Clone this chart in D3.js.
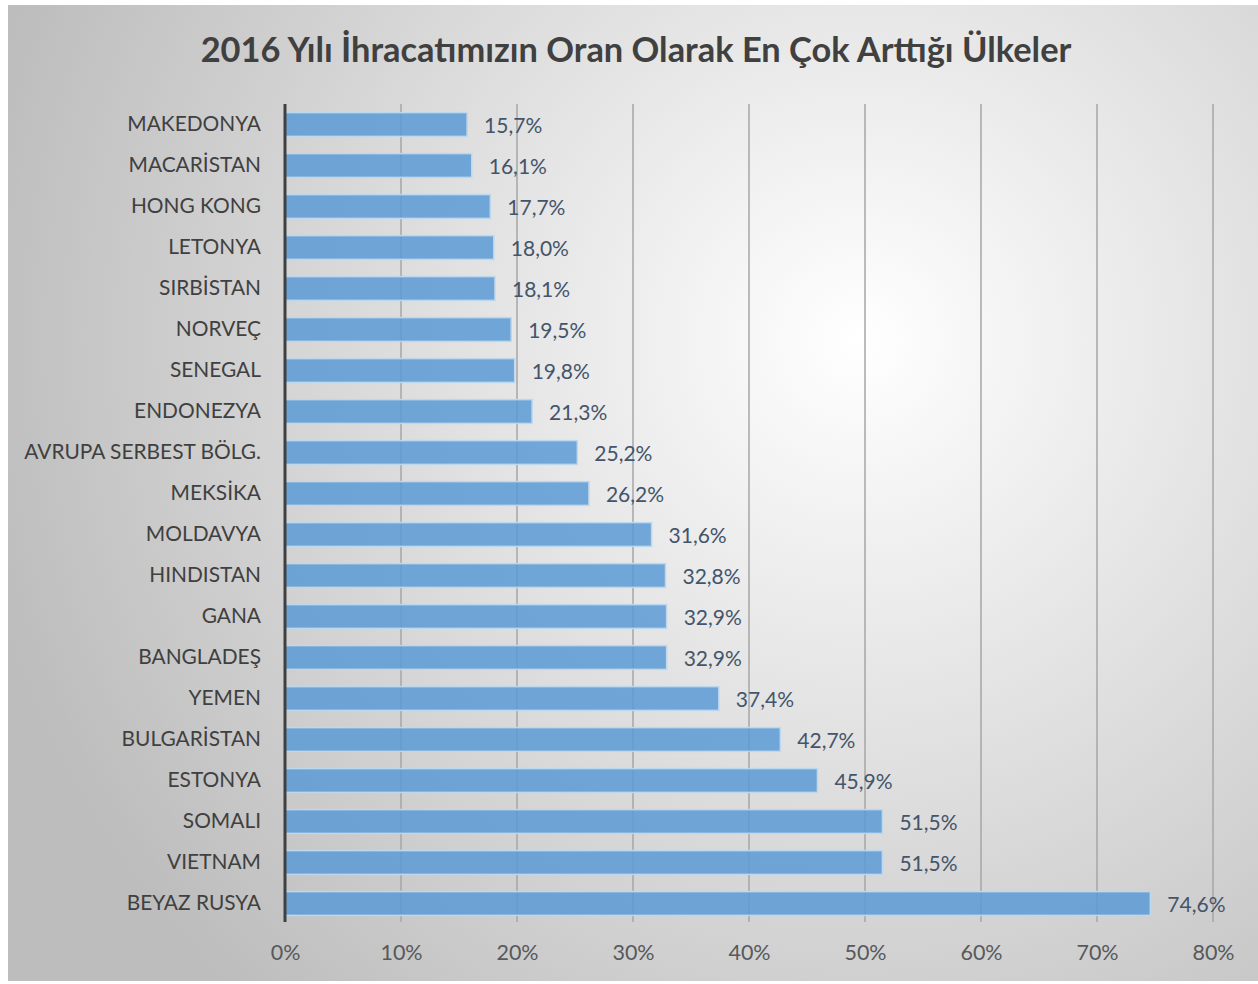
<!DOCTYPE html>
<html>
<head>
<meta charset="utf-8">
<script src="https://cdn.jsdelivr.net/npm/d3@7"></script>
<style>
  html, body { margin: 0; padding: 0; background: #fff; }
  svg { display: block; }
</style>
</head>
<body>
<div id="chart"></div>
<script>
// Chart data
const countries = [
  'MAKEDONYA', 'MACARİSTAN', 'HONG KONG', 'LETONYA', 'SIRBİSTAN',
  'NORVEÇ', 'SENEGAL', 'ENDONEZYA', 'AVRUPA SERBEST BÖLG.', 'MEKSİKA',
  'MOLDAVYA', 'HINDISTAN', 'GANA', 'BANGLADEŞ', 'YEMEN',
  'BULGARİSTAN', 'ESTONYA', 'SOMALI', 'VIETNAM', 'BEYAZ RUSYA'
];
const increase = [
  15.7, 16.1, 17.7, 18.0, 18.1,
  19.5, 19.8, 21.3, 25.2, 26.2,
  31.6, 32.8, 32.9, 32.9, 37.4,
  42.7, 45.9, 51.5, 51.5, 74.6
];
const xTicks = [0, 10, 20, 30, 40, 50, 60, 70, 80];
const title = '2016 Yılı İhracatımızın Oran Olarak En Çok Arttığı Ülkeler';

const W = 1258, H = 984;
const FONT = 'Lato, "Open Sans", sans-serif';
const margin = { left: 285, right: 45, top: 104, bottom: 60 };

const svg = d3.select('#chart').append('svg')
  .attr('width', W)
  .attr('height', H);

// Background gradient
const defs = svg.append('defs');
const grad = defs.append('radialGradient')
  .attr('id', 'bg')
  .attr('gradientUnits', 'userSpaceOnUse')
  .attr('cx', 860).attr('cy', 340).attr('r', 900);
grad.append('stop').attr('offset', 0).attr('stop-color', '#ffffff');
grad.append('stop').attr('offset', 1).attr('stop-color', '#bdbdbd');

svg.append('rect')
  .attr('x', 8).attr('y', 5)
  .attr('width', W - 8).attr('height', 976)
  .attr('fill', 'url(#bg)');

// Scales
const x = d3.scaleLinear()
  .domain([0, 80])
  .range([margin.left, margin.left + 928]);

const y = d3.scaleBand()
  .domain(countries)
  .range([margin.top, margin.top + 820])
  .paddingInner(0.42)
  .paddingOuter(0.21);

// Title
svg.append('text')
  .attr('x', 636)
  .attr('y', 62)
  .attr('text-anchor', 'middle')
  .attr('font-family', FONT)
  .attr('font-weight', 'bold')
  .attr('font-size', 34.4)
  .attr('fill', '#404040')
  .text(title);

// Vertical gridlines
const gridBottom = margin.top + 818;
svg.append('g')
  .selectAll('line')
  .data(xTicks.slice(1))
  .enter()
  .append('line')
  .attr('x1', d => x(d)).attr('x2', d => x(d))
  .attr('y1', margin.top).attr('y2', gridBottom)
  .attr('stroke', '#a6a6a6')
  .attr('stroke-width', 1.5);

// Bars
svg.append('g')
  .selectAll('rect')
  .data(countries)
  .enter()
  .append('rect')
  .attr('x', x(0))
  .attr('y', d => y(d))
  .attr('width', (d, i) => x(increase[i]) - x(0))
  .attr('height', y.bandwidth())
  .attr('fill', '#5b9bd5')
  .attr('fill-opacity', 0.85)
  .attr('stroke', '#bdd7ee')
  .attr('stroke-width', 1.5);

// Value labels
svg.append('g')
  .selectAll('text')
  .data(countries)
  .enter()
  .append('text')
  .attr('x', (d, i) => x(increase[i]) + 17)
  .attr('y', d => y(d) + y.bandwidth() / 2)
  .attr('dy', '0.4em')
  .attr('font-family', FONT)
  .attr('font-size', 21)
  .attr('fill', '#44546a')
  .text((d, i) => increase[i].toFixed(1).replace('.', ',') + '%');

// Category axis
const yAxis = svg.append('g')
  .attr('transform', `translate(${x(0)},0)`)
  .call(d3.axisLeft(y).tickSize(0).tickPadding(24));
yAxis.select('.domain').remove();
yAxis.selectAll('text')
  .attr('font-family', FONT)
  .attr('font-size', 20.9)
  .attr('fill', '#404040');

svg.append('line')
  .attr('x1', x(0)).attr('x2', x(0))
  .attr('y1', margin.top).attr('y2', gridBottom)
  .attr('stroke', '#404040')
  .attr('stroke-width', 3);

// Value axis labels
const xAxis = svg.append('g')
  .attr('transform', `translate(0,${gridBottom})`)
  .call(d3.axisBottom(x).tickValues(xTicks).tickSize(0).tickPadding(23)
    .tickFormat(d => d + '%'));
xAxis.select('.domain').remove();
xAxis.selectAll('text')
  .attr('font-family', FONT)
  .attr('font-size', 21.5)
  .attr('fill', '#595959');
</script>
</body>
</html>
